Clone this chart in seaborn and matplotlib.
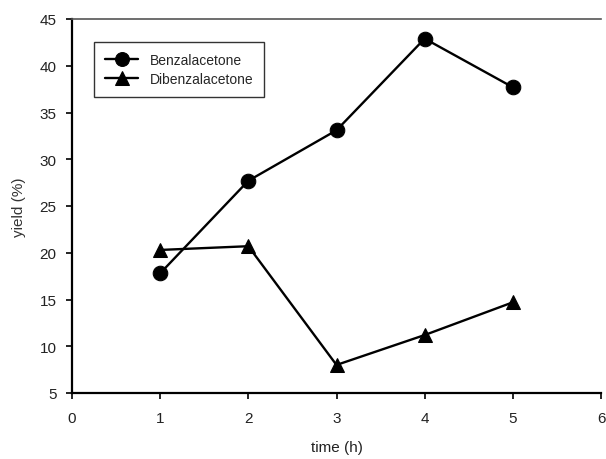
import matplotlib
matplotlib.use("Agg")
import matplotlib.pyplot as plt
import seaborn as sns
import pandas as pd

time_h = [1, 2, 3, 4, 5]
benzalacetone = [17.8, 27.7, 33.1, 42.9, 37.7]
dibenzalacetone = [20.3, 20.7, 8.0, 11.2, 14.7]
series_names = ["Benzalacetone", "Dibenzalacetone"]

df = pd.DataFrame({
    "time": time_h * 2,
    "yield": benzalacetone + dibenzalacetone,
    "compound": [series_names[0]] * 5 + [series_names[1]] * 5,
})

sns.set_style("ticks")
plt.rcParams['font.family'] = ['Liberation Sans', 'DejaVu Sans']

fig = plt.figure(figsize=(6.06, 4.6), dpi=100)
ax = fig.add_axes([72/606, 66/460, 529/606, 374/460])

sns.lineplot(data=df, x="time", y="yield", hue="compound", style="compound",
             palette=["black", "black"], markers={"Benzalacetone": "o", "Dibenzalacetone": "^"},
             dashes=False, markersize=10.5, markeredgecolor="black", linewidth=1.7, ax=ax)

ax.set_xlim(0, 6)
ax.set_ylim(5, 45)
ax.set_xticks(range(0, 7))
ax.set_yticks(range(5, 46, 5))
ax.tick_params(axis="both", direction="out", length=4, width=1.2, labelsize=11, colors="black", labelcolor="#222222")
ax.tick_params(axis="x", pad=9)
ax.tick_params(axis="y", pad=7)
ax.set_xlabel("time (h)", fontsize=11, color="#222222", labelpad=11)
ax.set_ylabel("yield (%)", fontsize=11, color="#333333", labelpad=10)
for s in ["left", "bottom"]:
    ax.spines[s].set_linewidth(1.6)
    ax.spines[s].set_color("black")
ax.spines["top"].set_visible(True)
ax.spines["top"].set_color("#555555")
ax.spines["top"].set_linewidth(1.2)
ax.spines["right"].set_visible(False)

leg = ax.legend(loc="upper left", bbox_to_anchor=(22/529, 351/374), borderaxespad=0,
                frameon=True, fancybox=False,
                edgecolor="black", fontsize=10, handlelength=2.4, handletextpad=0.8,
                borderpad=0.8, labelspacing=0.35, title=None)
leg.get_frame().set_linewidth(1.0)
for h in leg.legend_handles:
    h.set_markersize(10)
    h.set_linewidth(1.7)

fig.savefig("out.png", dpi=100)
